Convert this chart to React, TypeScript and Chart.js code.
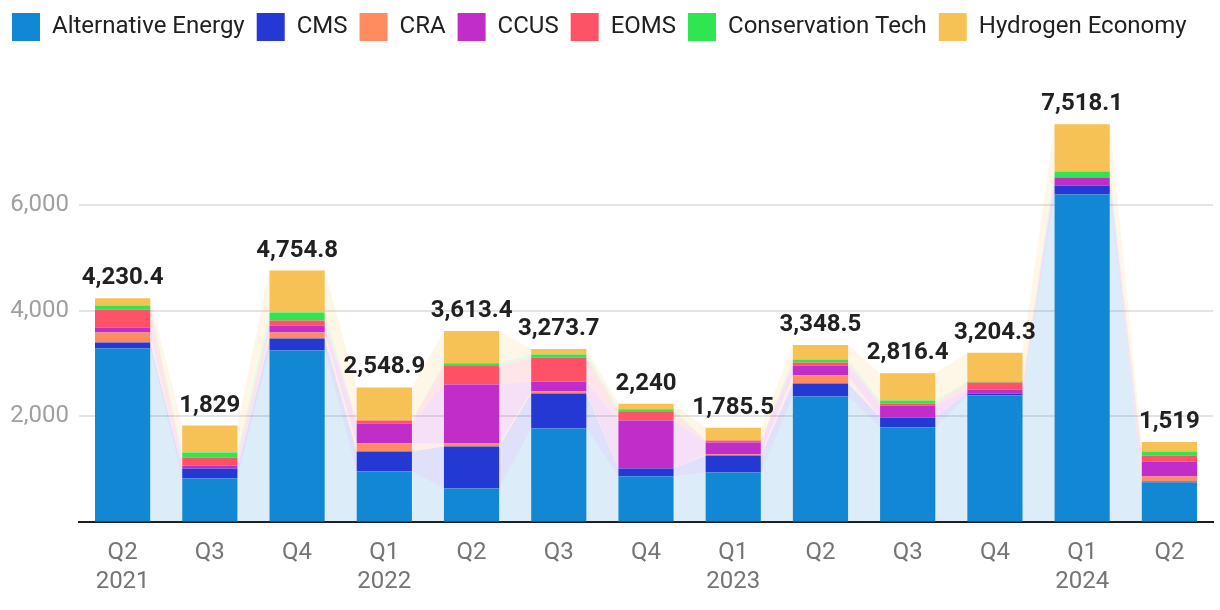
import React, { useEffect, useRef } from "react";
import { Chart, registerables } from "chart.js";

Chart.register(...registerables);

const QUARTERS: (string | string[])[] = [
  ["Q2", "2021"], "Q3", "Q4",
  ["Q1", "2022"], "Q2", "Q3", "Q4",
  ["Q1", "2023"], "Q2", "Q3", "Q4",
  ["Q1", "2024"], "Q2",
];

const SERIES_NAMES = [
  "Alternative Energy", "CMS", "CRA", "CCUS", "EOMS", "Conservation Tech", "Hydrogen Economy",
];

const alternativeEnergy = [3283, 830, 3246, 962, 642, 1774, 868, 944, 2378, 1793, 2396, 6189, 755];
const cms = [114, 189, 226, 378, 792, 660, 151, 320, 245, 188, 38, 170, 19];
const cra = [188, 0, 113, 151, 57, 38, 0, 19, 151, 0, 0, 0, 94];
const ccus = [95, 57, 132, 377, 1113, 189, 906, 227, 189, 227, 76, 151, 283];
const eoms = [339, 151, 95, 57, 364, 453, 175, 38, 56, 38, 132, 0, 113];
const conservationTech = [76, 94, 151, 0, 38, 56, 38, 0, 57, 56, 19, 113, 76];
const hydrogenEconomy = [135.4, 508, 791.8, 623.9, 607.4, 103.7, 102, 237.5, 272.5, 514.4, 543.3, 895.1, 179];

const SERIES_VALUES = [alternativeEnergy, cms, cra, ccus, eoms, conservationTech, hydrogenEconomy];

const Y_TICKS = [0, 2000, 4000, 6000];
const Y_MAX = 8900;

const COLORS = ["#1287d4", "#2438d4", "#ff8c61", "#c02dc9", "#ff5267", "#30e650", "#f6c155"];

const BAR_FRACTION = 0.633;
const AREA_ALPHA = 0.15;
const FONT = "Roboto";

function hexToRgba(hex: string, a: number) {
  const n = parseInt(hex.slice(1), 16);
  return `rgba(${(n >> 16) & 255},${(n >> 8) & 255},${n & 255},${a})`;
}

// translucent stacked bands joining neighbouring bars (edge to edge)
const areaPlugin = {
  id: "bands",
  beforeDatasetsDraw(chart: any) {
    const { ctx, chartArea } = chart;
    ctx.save();
    ctx.beginPath();
    ctx.rect(chartArea.left, chartArea.top, chartArea.right - chartArea.left, chartArea.bottom - chartArea.top);
    ctx.clip();
    SERIES_NAMES.forEach((_, k) => {
      const meta = chart.getDatasetMeta(k);
      ctx.fillStyle = hexToRgba(COLORS[k], AREA_ALPHA);
      for (let i = 0; i < meta.data.length - 1; i++) {
        const a = meta.data[i];
        const b = meta.data[i + 1];
        const ax = a.x + a.width / 2;
        const bx = b.x - b.width / 2;
        ctx.beginPath();
        ctx.moveTo(ax, a.y);
        ctx.lineTo(bx, b.y);
        ctx.lineTo(bx, b.base);
        ctx.lineTo(ax, a.base);
        ctx.closePath();
        ctx.fill();
      }
    });
    ctx.restore();
  },
};

const totalsPlugin = {
  id: "totals",
  afterDatasetsDraw(chart: any) {
    const { ctx, scales } = chart;
    const xs = scales.x;
    const ys = scales.y;
    ctx.save();
    ctx.font = `bold 24px ${FONT}`;
    ctx.fillStyle = "#212121";
    ctx.textAlign = "center";
    ctx.textBaseline = "alphabetic";
    QUARTERS.forEach((_, i) => {
      let t = 0;
      SERIES_VALUES.forEach((s) => (t += s[i]));
      t = Math.round(t * 10) / 10;
      const x = xs.getPixelForValue(i);
      const y = ys.getPixelForValue(t);
      ctx.fillText(t.toLocaleString("en-US", { maximumFractionDigits: 1 }), x, y - 14);
    });
    ctx.restore();
  },
};

export default function App() {
  const ref = useRef<HTMLCanvasElement>(null);

  useEffect(() => {
    document.body.style.margin = "0";
    const barSets = SERIES_NAMES.map((name, k) => ({
      label: name,
      data: SERIES_VALUES[k],
      backgroundColor: COLORS[k],
      borderWidth: 0,
      barPercentage: BAR_FRACTION,
      categoryPercentage: 1,
    }));

    const chart = new Chart(ref.current!, {
      type: "bar",
      data: { labels: QUARTERS as any, datasets: barSets as any },
      options: {
        animation: false,
        responsive: true,
        maintainAspectRatio: false,
        layout: { padding: { left: 0, right: 7, top: 1, bottom: 6 } },
        plugins: {
          tooltip: { enabled: false },
          legend: {
            position: "top",
            align: "start",
            labels: {
              boxWidth: 28,
              boxHeight: 28,
              padding: 12,
              color: "#212121",
              font: { family: FONT, size: 24 },
            },
          },
        },
        scales: {
          x: {
            type: "category",
            stacked: true,
            grid: { display: false },
            border: { display: true, color: "#1b1f23", width: 2 },
            ticks: {
              color: "#757575",
              font: { family: FONT, size: 24, lineHeight: 1.2 },
              padding: 8,
              maxRotation: 0,
              autoSkip: false,
            },
          },
          y: {
            stacked: true,
            min: 0,
            max: Y_MAX,
            border: { display: false },
            afterFit: (s: any) => {
              s.width = 79;
            },
            afterBuildTicks: (s: any) => {
              s.ticks = Y_TICKS.map((v) => ({ value: v }));
            },
            grid: {
              drawTicks: false,
              lineWidth: 2,
              color: (c: any) => (c.tick && c.tick.value > 0 ? "#e4e4e4" : "rgba(0,0,0,0)"),
            },
            ticks: {
              padding: 10,
              color: "#a0a0a0",
              font: { family: FONT, size: 24 },
              callback: (v: any) => (v > 0 ? Number(v).toLocaleString("en-US") : ""),
            },
          },
        },
      },
      plugins: [areaPlugin, totalsPlugin],
    });
    return () => chart.destroy();
  }, []);

  return (
    <div style={{ position: "relative", width: 1220, height: 610 }}>
      <canvas ref={ref} />
    </div>
  );
}
